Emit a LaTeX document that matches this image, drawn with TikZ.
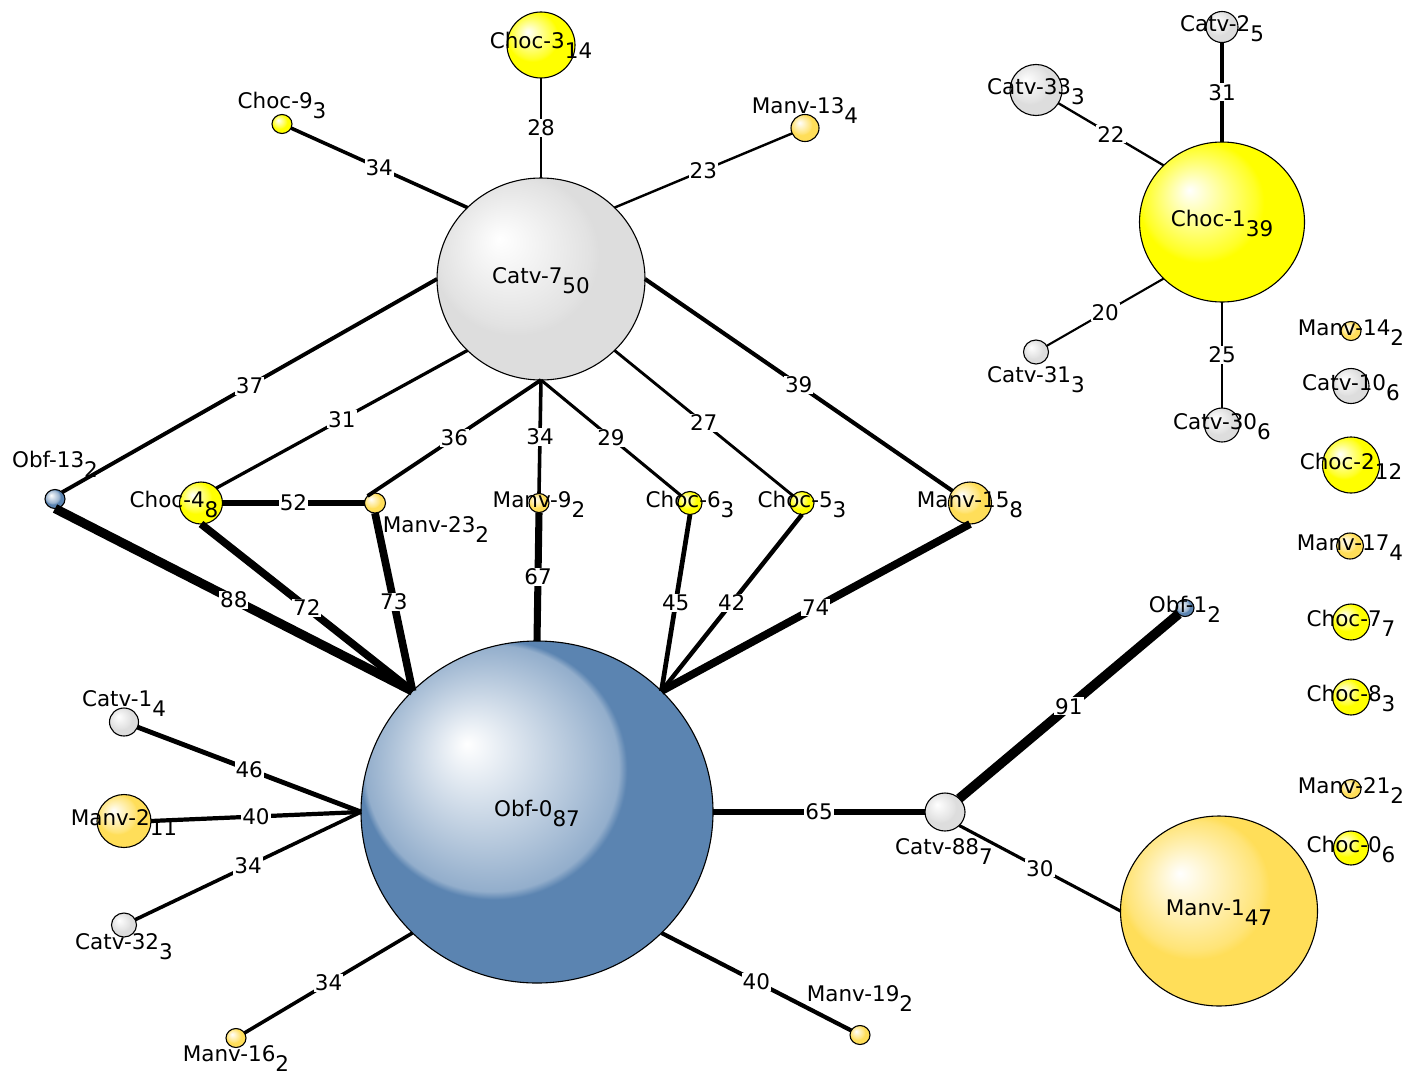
\documentclass[tikz,border=0pt]{standalone}
\usepackage{fontspec}
\setmainfont{DejaVu Sans}
\usetikzlibrary{shapes.geometric}
\definecolor{obfc}{RGB}{91,132,177}
\definecolor{grayc}{RGB}{221,221,221}
\definecolor{yelc}{RGB}{255,255,0}
\definecolor{goldc}{RGB}{255,222,89}
\colorlet{obfl}{obfc!66!white}
\colorlet{grayl}{grayc!85!white}
\colorlet{yell}{yelc!85!white}
\colorlet{goldl}{goldc!82!white}
\pgfdeclareradialshading{shobf}{\pgfpoint{-10bp}{10bp}}{color(0bp)=(white); color(18bp)=(obfl); color(19bp)=(obfc); color(50bp)=(obfc)}
\pgfdeclareradialshading{shgray}{\pgfpoint{-10bp}{10bp}}{color(0bp)=(white); color(18bp)=(grayl); color(20bp)=(grayc); color(50bp)=(grayc)}
\pgfdeclareradialshading{shyel}{\pgfpoint{-10bp}{10bp}}{color(0bp)=(white); color(17bp)=(yell); color(19bp)=(yelc); color(50bp)=(yelc)}
\pgfdeclareradialshading{shgold}{\pgfpoint{-10bp}{10bp}}{color(0bp)=(white); color(17bp)=(goldl); color(19bp)=(goldc); color(50bp)=(goldc)}
\newcommand\ball[5]{\node[ball, shading=#5, minimum width=#3pt, minimum height=#4pt] (#1) at (#2) {};}
\newcommand\nlab[4]{\node[lab] (l-#1) at (#2) {#3\raisebox{-10pt}{#4}};}
\def\edgelist{catv7.north/choc3.south/28, catv7.north west/choc9/34, catv7.north east/manv13/23,
 catv7.west/obf13.north east/37, catv7.south west/choc4.north east/31, catv7.south/manv23.north west/36,
 catv7.south/manv9.north/34, catv7.south/choc6/29, catv7.south east/choc5/27, catv7.east/manv15/39,
 obf13.south/obf0.north west/88, choc4.south/obf0.north west/72, manv23.south/obf0.north west/73,
 manv9.south/obf0.north/67, choc6.south/obf0.north east/45, choc5.south/obf0.north east/42,
 manv15.south/obf0.north east/74, catv1/obf0.west/46, manv2.east/obf0.west/40, catv32/obf0.west/34,
 manv16/obf0.south west/34, manv19/obf0.south east/40, obf0.east/catv88.west/65, choc4.east/manv23.west/52,
 catv88.north east/obf1.south west/91, catv88.south east/manv1.west/30, choc1.north/catv2.south/31,
 choc1.north west/catv33/22, choc1.south west/catv31/20, choc1.south/catv30.north/25}
\begin{document}
\begin{tikzpicture}[x=1pt,y=-1pt,
  ball/.style={ellipse, draw=black, line width=1.1pt, inner sep=0pt, outer sep=0pt},
  lab/.style={anchor=base, inner sep=0pt, text=black, font=\fontsize{21.5}{24}\selectfont},
  elab/.style={fill=white, inner sep=1pt, text=black, font=\fontsize{21.5}{24}\selectfont}]
\fill[white] (0,0) rectangle (1407,1076);
\useasboundingbox (0,0) rectangle (1407,1076);
% balls
\ball{obf0}{537,812}{352}{342}{shobf}
\ball{catv7}{541,279}{208}{202}{shgray}
\ball{choc1}{1222,222}{165}{160}{shyel}
\ball{manv1}{1219,911}{197}{190}{shgold}
\ball{choc3}{541,45}{68}{66}{shyel}
\ball{choc9}{282,124}{20}{19}{shyel}
\ball{manv13}{805,128}{28}{27}{shgold}
\ball{catv2}{1222,27}{32}{31}{shgray}
\ball{catv33}{1036,90}{52}{51}{shgray}
\ball{catv31}{1036,352}{25}{24}{shgray}
\ball{catv30}{1222,425}{35}{34}{shgray}
\ball{manv14}{1351,331}{20}{19}{shgold}
\ball{catv10}{1351,386}{36}{35}{shgray}
\ball{choc2}{1351,465}{57}{56}{shyel}
\ball{manv17}{1350,546}{27}{26}{shgold}
\ball{choc7}{1351,622}{37}{36}{shyel}
\ball{choc8}{1351,697}{37}{36}{shyel}
\ball{manv21}{1351,789}{20}{19}{shgold}
\ball{choc0}{1351,848}{35}{34}{shyel}
\ball{obf13}{55,499}{20}{19}{shobf}
\ball{choc4}{201,503}{43}{42}{shyel}
\ball{manv23}{375,503}{21}{20}{shgold}
\ball{manv9}{539,503}{20}{19}{shgold}
\ball{choc6}{690,503}{24}{23}{shyel}
\ball{choc5}{802,503}{24}{23}{shyel}
\ball{manv15}{970,503}{43}{42}{shgold}
\ball{catv1}{124,722}{29}{28}{shgray}
\ball{manv2}{124,821}{54}{53}{shgold}
\ball{catv32}{124,925}{25}{24}{shgray}
\ball{manv16}{236,1038}{20}{19}{shgold}
\ball{manv19}{860,1035}{20}{19}{shgold}
\ball{catv88}{945,812}{40}{38}{shgray}
\ball{obf1}{1185,608}{18}{17}{shobf}
% node labels
\nlab{obf0}{537,816.5}{Obf-0}{87}
\nlab{catv7}{541,283.5}{Catv-7}{50}
\nlab{choc1}{1222,226.5}{Choc-1}{39}
\nlab{manv1}{1219,915.5}{Manv-1}{47}
\nlab{choc3}{541,48.5}{Choc-3}{14}
\nlab{choc9}{282,108}{Choc-9}{3}
\nlab{manv13}{805,113}{Manv-13}{4}
\nlab{catv2}{1222,31.5}{Catv-2}{5}
\nlab{catv33}{1036,94.5}{Catv-33}{3}
\nlab{catv31}{1036,382}{Catv-31}{3}
\nlab{catv30}{1222,429.5}{Catv-30}{6}
\nlab{manv14}{1351,335.5}{Manv-14}{2}
\nlab{catv10}{1351,390.5}{Catv-10}{6}
\nlab{choc2}{1351,469.5}{Choc-2}{12}
\nlab{manv17}{1350,550.5}{Manv-17}{4}
\nlab{choc7}{1351,626.5}{Choc-7}{7}
\nlab{choc8}{1351,701.5}{Choc-8}{3}
\nlab{manv21}{1351,793.5}{Manv-21}{2}
\nlab{choc0}{1351,852.5}{Choc-0}{6}
\nlab{obf13}{55,467}{Obf-13}{2}
\nlab{choc4}{174,507.5}{Choc-4}{8}
\nlab{manv23}{436,532}{Manv-23}{2}
\nlab{manv9}{539,507.5}{Manv-9}{2}
\nlab{choc6}{690,507.5}{Choc-6}{3}
\nlab{choc5}{802,507.5}{Choc-5}{3}
\nlab{manv15}{970,507.5}{Manv-15}{8}
\nlab{catv1}{124,706}{Catv-1}{4}
\nlab{manv2}{124,825.5}{Manv-2}{11}
\nlab{catv32}{124,949}{Catv-32}{3}
\nlab{manv16}{236,1061}{Manv-16}{2}
\nlab{manv19}{860,1001}{Manv-19}{2}
\nlab{catv88}{944,854}{Catv-88}{7}
\nlab{obf1}{1185,612.5}{Obf-1}{2}
% edges
\foreach \a/\b/\v in \edgelist {\draw[line width={\v/9.5}] (\a) -- (\b);}
\foreach \a/\b/\v in \edgelist {\path (\a) -- node[elab] {\v} (\b);}
\end{tikzpicture}
\end{document}
